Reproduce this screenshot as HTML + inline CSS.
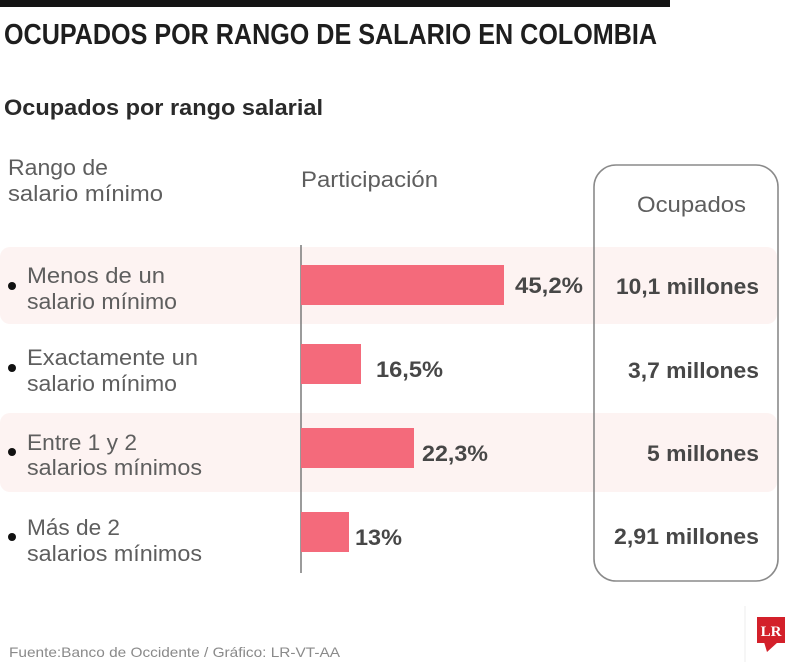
<!DOCTYPE html>
<html><head><meta charset="utf-8"><style>
html,body{margin:0;padding:0;background:#fff;}
svg{display:block;}
text{font-family:"Liberation Sans",sans-serif;}
.lt{fill:#5e5e5e;font-size:22px;}
.bv{fill:#474747;font-size:22px;font-weight:bold;}
</style></head><body>
<svg width="800" height="666" viewBox="0 0 800 666" xmlns="http://www.w3.org/2000/svg">
<rect x="0" y="0" width="800" height="666" fill="#fff"/>
<rect x="0" y="0" width="670" height="7" fill="#141414"/>
<text x="4" y="44" font-size="29" font-weight="bold" fill="#1e1e1e" textLength="653" lengthAdjust="spacingAndGlyphs">OCUPADOS POR RANGO DE SALARIO EN COLOMBIA</text>
<text x="4" y="115" font-size="22" font-weight="bold" fill="#2a2a2a" textLength="319" lengthAdjust="spacingAndGlyphs">Ocupados por rango salarial</text>

<!-- row bands -->
<rect x="0" y="247" width="777" height="77" rx="10" fill="#fdf3f2"/>
<rect x="0" y="413" width="777" height="79" rx="10" fill="#fdf3f2"/>

<!-- headers -->
<text x="8" y="175" class="lt" font-size="21" textLength="100" lengthAdjust="spacingAndGlyphs">Rango de</text>
<text x="8" y="201" class="lt" font-size="21" textLength="155" lengthAdjust="spacingAndGlyphs">salario mínimo</text>
<text x="301" y="187" class="lt" font-size="21" textLength="137" lengthAdjust="spacingAndGlyphs">Participación</text>

<!-- box -->
<rect x="594" y="165" width="184" height="416" rx="22" fill="none" stroke="#8a8a8a" stroke-width="1.6"/>
<text x="637" y="212" class="lt" font-size="23" textLength="109" lengthAdjust="spacingAndGlyphs">Ocupados</text>

<!-- axis -->
<line x1="301" y1="245" x2="301" y2="573" stroke="#7a7a7a" stroke-width="1.5"/>

<!-- bars -->
<rect x="301" y="265" width="203" height="40" fill="#f46a7b"/>
<rect x="301" y="344" width="60" height="40" fill="#f46a7b"/>
<rect x="301" y="428" width="113" height="40" fill="#f46a7b"/>
<rect x="301" y="512" width="48" height="40" fill="#f46a7b"/>

<!-- percent labels -->
<text x="515" y="293" class="bv" textLength="68" lengthAdjust="spacingAndGlyphs">45,2%</text>
<text x="376" y="377" class="bv" textLength="67" lengthAdjust="spacingAndGlyphs">16,5%</text>
<text x="422" y="461" class="bv" textLength="66" lengthAdjust="spacingAndGlyphs">22,3%</text>
<text x="355" y="545" class="bv" textLength="47" lengthAdjust="spacingAndGlyphs">13%</text>

<!-- values -->
<text x="616" y="294" class="bv" font-size="23" textLength="143" lengthAdjust="spacingAndGlyphs">10,1 millones</text>
<text x="628" y="378" class="bv" font-size="23" textLength="131" lengthAdjust="spacingAndGlyphs">3,7 millones</text>
<text x="647" y="461" class="bv" font-size="23" textLength="112" lengthAdjust="spacingAndGlyphs">5 millones</text>
<text x="614" y="544" class="bv" font-size="23" textLength="145" lengthAdjust="spacingAndGlyphs">2,91 millones</text>

<!-- row labels -->
<circle cx="12" cy="286" r="4" fill="#111"/>
<text x="27" y="283" class="lt" textLength="138" lengthAdjust="spacingAndGlyphs">Menos de un</text>
<text x="27" y="309" class="lt" textLength="150" lengthAdjust="spacingAndGlyphs">salario mínimo</text>

<circle cx="12" cy="368" r="4" fill="#111"/>
<text x="27" y="365" class="lt" textLength="171" lengthAdjust="spacingAndGlyphs">Exactamente un</text>
<text x="27" y="391" class="lt" textLength="150" lengthAdjust="spacingAndGlyphs">salario mínimo</text>

<circle cx="12" cy="452" r="4" fill="#111"/>
<text x="27" y="450" class="lt" textLength="110" lengthAdjust="spacingAndGlyphs">Entre 1 y 2</text>
<text x="27" y="475" class="lt" textLength="175" lengthAdjust="spacingAndGlyphs">salarios mínimos</text>

<circle cx="12" cy="537" r="4" fill="#111"/>
<text x="27" y="535" class="lt" textLength="93" lengthAdjust="spacingAndGlyphs">Más de 2</text>
<text x="27" y="561" class="lt" textLength="175" lengthAdjust="spacingAndGlyphs">salarios mínimos</text>

<!-- footer -->
<text x="9" y="657" font-size="14" fill="#8a8a8a" textLength="331" lengthAdjust="spacingAndGlyphs">Fuente:Banco de Occidente / Gráfico: LR-VT-AA</text>
<line x1="745" y1="606" x2="745" y2="662" stroke="#ececec" stroke-width="1"/>
<rect x="757" y="617" width="28" height="26" fill="#d3202a"/>
<polygon points="764,642 778,642 767,652" fill="#d3202a"/>
<text x="771" y="636" font-family="Liberation Serif,serif" font-size="15" font-weight="bold" fill="#fff" text-anchor="middle" style="font-family:'Liberation Serif',serif">LR</text>
</svg>
</body></html>
